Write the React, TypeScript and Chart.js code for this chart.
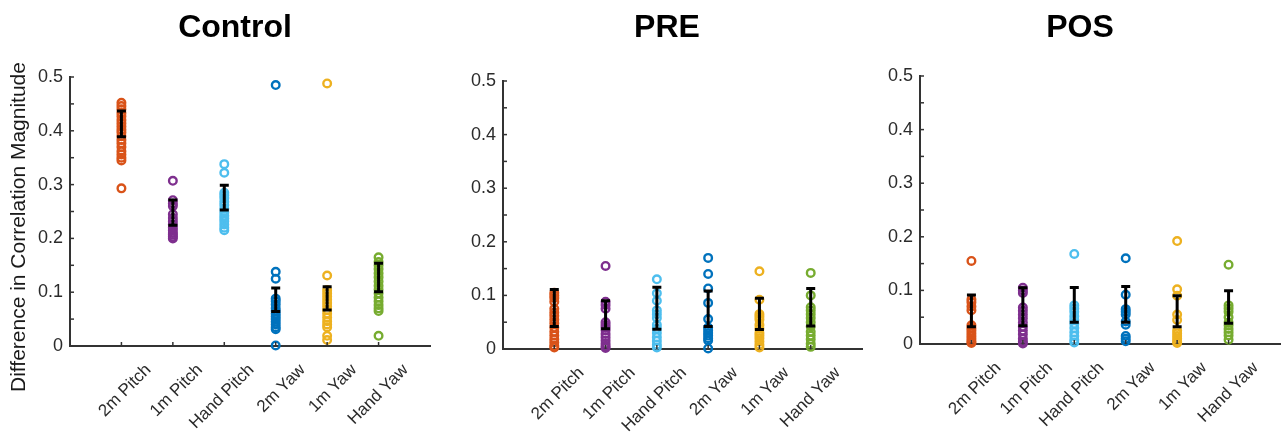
import React, { useEffect, useRef } from 'react';
import { Chart, registerables } from 'chart.js';

Chart.register(...registerables);

const FONT = "'Liberation Sans', Arial, Helvetica, sans-serif";

const categories = ['2m Pitch', '1m Pitch', 'Hand Pitch', '2m Yaw', '1m Yaw', 'Hand Yaw'];
const seriesColors = ['#D95319', '#7E2F8E', '#4DBEEE', '#0072BD', '#EDB120', '#77AC30'];
const panelTitles = ['Control', 'PRE', 'POS'];
const yAxisTitle = 'Difference in Correlation Magnitude';
const yMin = 0;
const yMax = 0.5;
const yMajorStep = 0.1;
const yMinorStep = 0.05;

// ---- Control ----
const control2mPitch = [0.452, 0.446, 0.44, 0.433, 0.427, 0.42, 0.414, 0.408, 0.402, 0.397, 0.39, 0.383, 0.377, 0.37, 0.362, 0.356, 0.35, 0.345, 0.293];
const control1mPitch = [0.307, 0.271, 0.265, 0.26, 0.245, 0.238, 0.232, 0.226, 0.22, 0.215, 0.21, 0.207, 0.203, 0.2];
const controlHandPitch = [0.338, 0.322, 0.285, 0.28, 0.275, 0.268, 0.262, 0.255, 0.248, 0.242, 0.237, 0.232, 0.226, 0.22, 0.215];
const control2mYaw = [0.485, 0.138, 0.125, 0.088, 0.083, 0.077, 0.07, 0.065, 0.06, 0.055, 0.05, 0.045, 0.04, 0.035, 0.031, 0.001];
const control1mYaw = [0.488, 0.131, 0.104, 0.098, 0.092, 0.086, 0.08, 0.074, 0.067, 0.06, 0.053, 0.046, 0.04, 0.035, 0.019, 0.011];
const controlHandYaw = [0.165, 0.156, 0.15, 0.143, 0.135, 0.128, 0.12, 0.112, 0.105, 0.098, 0.09, 0.083, 0.076, 0.07, 0.065, 0.019];
const controlMeans = [0.413, 0.248, 0.276, 0.086, 0.0885, 0.1275];
const controlErrors = [0.024, 0.0235, 0.023, 0.022, 0.0215, 0.0265];

// ---- PRE ----
const pre2mPitch = [0.105, 0.1, 0.095, 0.088, 0.075, 0.068, 0.062, 0.055, 0.048, 0.04, 0.032, 0.025, 0.018, 0.012, 0.006, 0.003];
const pre1mPitch = [0.155, 0.088, 0.082, 0.075, 0.05, 0.045, 0.04, 0.035, 0.028, 0.022, 0.016, 0.01, 0.005, 0.002];
const preHandPitch = [0.13, 0.104, 0.09, 0.072, 0.065, 0.058, 0.045, 0.038, 0.03, 0.022, 0.015, 0.008, 0.003];
const pre2mYaw = [0.17, 0.14, 0.113, 0.086, 0.056, 0.04, 0.035, 0.03, 0.025, 0.02, 0.016, 0.001];
const pre1mYaw = [0.145, 0.092, 0.065, 0.06, 0.055, 0.045, 0.038, 0.03, 0.025, 0.02, 0.014, 0.008, 0.003];
const preHandYaw = [0.142, 0.1, 0.078, 0.072, 0.065, 0.058, 0.05, 0.042, 0.032, 0.025, 0.018, 0.01, 0.004];
const preMeans = [0.0765, 0.064, 0.076, 0.075, 0.0656, 0.078];
const preErrors = [0.0345, 0.026, 0.039, 0.033, 0.029, 0.035];

// ---- POS ----
const pos2mPitch = [0.155, 0.083, 0.078, 0.07, 0.063, 0.035, 0.03, 0.025, 0.02, 0.015, 0.01, 0.005, 0.002];
const pos1mPitch = [0.105, 0.1, 0.095, 0.068, 0.062, 0.055, 0.048, 0.04, 0.032, 0.025, 0.018, 0.01, 0.004, 0.001];
const posHandPitch = [0.168, 0.072, 0.066, 0.06, 0.052, 0.045, 0.038, 0.03, 0.022, 0.015, 0.008, 0.003];
const pos2mYaw = [0.16, 0.092, 0.065, 0.06, 0.055, 0.042, 0.036, 0.015, 0.01, 0.005];
const pos1mYaw = [0.192, 0.102, 0.09, 0.055, 0.045, 0.025, 0.02, 0.015, 0.01, 0.005, 0.002];
const posHandYaw = [0.148, 0.072, 0.066, 0.06, 0.05, 0.04, 0.035, 0.028, 0.022, 0.016, 0.008];
const posMeans = [0.0617, 0.0695, 0.073, 0.074, 0.061, 0.069];
const posErrors = [0.0297, 0.0355, 0.0325, 0.0335, 0.029, 0.0302];

const controlValues = [control2mPitch, control1mPitch, controlHandPitch, control2mYaw, control1mYaw, controlHandYaw];
const preValues = [pre2mPitch, pre1mPitch, preHandPitch, pre2mYaw, pre1mYaw, preHandYaw];
const posValues = [pos2mPitch, pos1mPitch, posHandPitch, pos2mYaw, pos1mYaw, posHandYaw];

const AXIS_COLOR = '#333333';
const TEXT_COLOR = '#2b2b2b';

const overlayPlugin = {
  id: 'overlay',
  afterDatasetsDraw(chart: any, _args: any, opts: any) {
    const { ctx, chartArea } = chart;
    const x = chart.scales.x;
    const y = chart.scales.y;
    ctx.save();
    // inward tick marks
    ctx.strokeStyle = AXIS_COLOR;
    ctx.lineWidth = 1.5;
    const nMinor = Math.round((yMax - yMin) / yMinorStep);
    for (let k = 0; k <= nMinor; k++) {
      const py = y.getPixelForValue(yMin + k * yMinorStep);
      ctx.beginPath();
      ctx.moveTo(chartArea.left, py);
      ctx.lineTo(chartArea.left + 4, py);
      ctx.stroke();
    }
    categories.forEach((_c, i) => {
      const px = x.getPixelForValue(i + 1);
      ctx.beginPath();
      ctx.moveTo(px, chartArea.bottom);
      ctx.lineTo(px, chartArea.bottom - 4);
      ctx.stroke();
    });
    // error bars
    ctx.strokeStyle = '#000000';
    ctx.lineWidth = 3;
    ctx.lineCap = 'butt';
    const means: number[] = opts.means;
    const errors: number[] = opts.errors;
    means.forEach((m, i) => {
      const px = x.getPixelForValue(i + 1);
      const top = y.getPixelForValue(m + errors[i]);
      const bot = y.getPixelForValue(m - errors[i]);
      ctx.beginPath();
      ctx.moveTo(px, top);
      ctx.lineTo(px, bot);
      ctx.moveTo(px - 4.5, top);
      ctx.lineTo(px + 4.5, top);
      ctx.moveTo(px - 4.5, bot);
      ctx.lineTo(px + 4.5, bot);
      ctx.stroke();
    });
    ctx.restore();
  },
};

type PanelProps = {
  values: number[][];
  means: number[];
  errors: number[];
  left: number;
  width: number;
  padTop: number;
  padRight: number;
  yAxisWidth: number;
  xAxisHeight: number;
};

function Panel(p: PanelProps) {
  const ref = useRef<HTMLCanvasElement>(null);
  useEffect(() => {
    if (!ref.current) return;
    const datasets = p.values.map((vals, i) => ({
      label: categories[i],
      data: vals.map((v) => ({ x: i + 1, y: v })),
      showLine: false,
      pointStyle: 'circle',
      pointRadius: 3.8,
      pointBorderWidth: 2.4,
      borderColor: seriesColors[i],
      pointBorderColor: seriesColors[i],
      backgroundColor: 'rgba(0,0,0,0)',
      pointBackgroundColor: 'rgba(255,255,255,0)',
      clip: false as any,
    }));
    const chart = new Chart(ref.current, {
      type: 'scatter',
      data: { datasets },
      plugins: [overlayPlugin],
      options: {
        responsive: false,
        animation: false,
        layout: { padding: { top: p.padTop, right: p.padRight, left: 0, bottom: 0 } },
        plugins: {
          legend: { display: false },
          tooltip: { enabled: false },
          title: { display: false },
          overlay: { means: p.means, errors: p.errors },
        } as any,
        scales: {
          x: {
            type: 'linear',
            min: 0,
            max: categories.length + 1,
            grid: { display: false, drawTicks: false },
            border: { display: true, color: AXIS_COLOR, width: 2 },
            afterBuildTicks: (s: any) => {
              s.ticks = categories.map((_c, i) => ({ value: i + 1 }));
            },
            afterFit: (s: any) => {
              s.height = p.xAxisHeight;
            },
            ticks: {
              autoSkip: false,
              minRotation: 45,
              maxRotation: 45,
              labelOffset: 27,
              padding: 14,
              color: TEXT_COLOR,
              font: { family: FONT, size: 17 },
              callback: (v: any) => categories[Math.round(v) - 1] ?? '',
            },
          },
          y: {
            type: 'linear',
            min: yMin,
            max: yMax,
            grid: { display: false, drawTicks: false },
            border: { display: true, color: AXIS_COLOR, width: 2 },
            afterFit: (s: any) => {
              s.width = p.yAxisWidth;
            },
            ticks: {
              stepSize: yMajorStep,
              padding: 7,
              color: TEXT_COLOR,
              font: { family: FONT, size: 18 },
              callback: (v: any) => String(Math.round(Number(v) * 10) / 10),
            },
          },
        } as any,
      },
    });
    return () => chart.destroy();
  }, []);
  return (
    <canvas
      ref={ref}
      width={p.width}
      height={434}
      style={{ position: 'absolute', left: p.left, top: 0, width: p.width, height: 434 }}
    />
  );
}

const titleStyle = (cx: number): React.CSSProperties => ({
  position: 'absolute',
  left: cx - 150,
  top: 10,
  width: 300,
  textAlign: 'center',
  fontFamily: FONT,
  fontWeight: 'bold',
  fontSize: 32,
  lineHeight: '32px',
  color: '#000',
});

export default function App() {
  return (
    <div style={{ position: 'absolute', left: 0, top: 0, width: 1288, height: 434, background: '#fff', overflow: 'hidden' }}>
      <Panel values={controlValues} means={controlMeans} errors={controlErrors} left={0} width={440} padTop={77} padRight={10} yAxisWidth={70} xAxisHeight={88} />
      <Panel values={preValues} means={preMeans} errors={preErrors} left={440} width={430} padTop={81} padRight={8} yAxisWidth={63} xAxisHeight={85} />
      <Panel values={posValues} means={posMeans} errors={posErrors} left={870} width={418} padTop={76} padRight={8} yAxisWidth={50} xAxisHeight={90} />
      <div style={titleStyle(235)}>{panelTitles[0]}</div>
      <div style={titleStyle(667)}>{panelTitles[1]}</div>
      <div style={titleStyle(1080)}>{panelTitles[2]}</div>
      <div
        style={{
          position: 'absolute',
          left: 18 - 200,
          top: 227 - 12,
          width: 400,
          height: 24,
          lineHeight: '24px',
          textAlign: 'center',
          transform: 'rotate(-90deg)',
          fontFamily: FONT,
          fontSize: 21,
          color: '#1a1a1a',
          whiteSpace: 'nowrap',
        }}
      >
        {yAxisTitle}
      </div>
    </div>
  );
}
